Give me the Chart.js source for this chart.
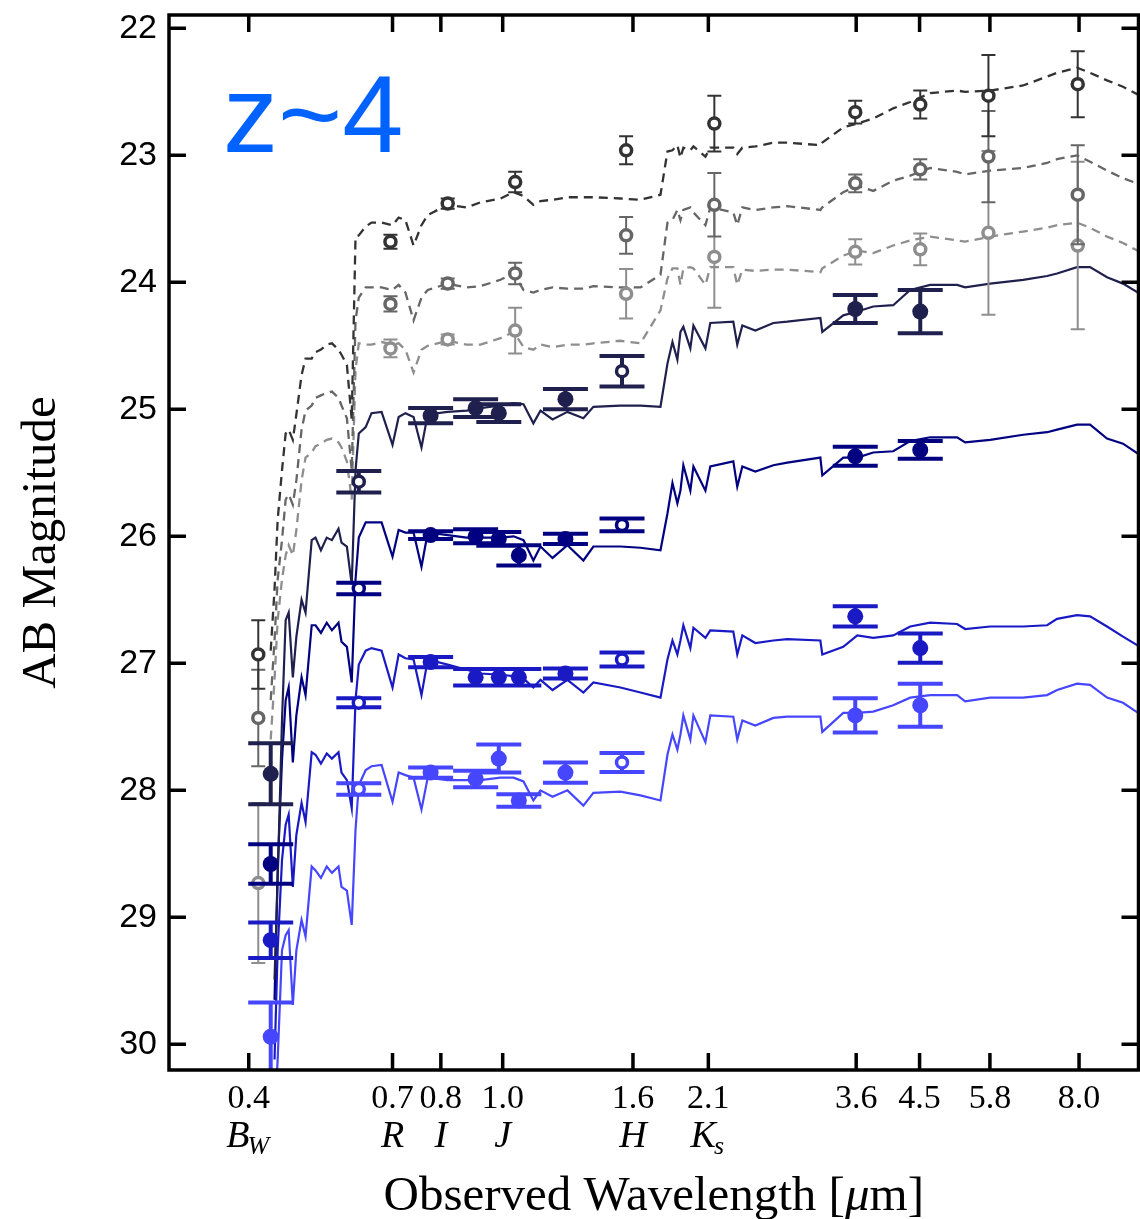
<!DOCTYPE html>
<html>
<head>
<meta charset="utf-8">
<script src="https://cdn.jsdelivr.net/npm/chart.js@4.4.1/dist/chart.umd.min.js"></script>
<style>
  html, body { margin: 0; padding: 0; background: #fff; }
  canvas { display: block; }
</style>
</head>
<body>
<canvas id="sedchart" width="1140" height="1219"></canvas>
<script>
// model SEDs, sampled on one wavelength grid (micron, observed frame)
var sedWave = [0.433, 0.439, 0.444, 0.451, 0.457, 0.462, 0.469, 0.475, 0.484, 0.491,
               0.502, 0.509, 0.519, 0.530, 0.540, 0.553, 0.559, 0.570, 0.580, 0.588,
               0.595, 0.610, 0.623, 0.646, 0.672, 0.687, 0.704, 0.725, 0.746, 0.763,
               0.820, 0.878, 0.923, 0.992, 1.040, 1.078, 1.117, 1.146, 1.197, 1.263,
               1.338, 1.387, 1.529, 1.644, 1.767, 1.812, 1.845, 1.878, 1.899, 1.919,
               1.968, 1.990, 2.078, 2.115, 2.298, 2.331, 2.374, 2.488, 2.655, 2.792,
               3.146, 3.168, 3.417, 3.594, 3.807, 4.092, 4.350, 4.676, 5.153, 5.304,
               5.805, 6.539, 7.129, 7.391, 7.942, 8.324, 8.850, 9.375, 9.968]

// solid models (AB mag)
var sedDarkNavy = [null, 29.49, 28.71, 27.45, 26.66, 26.60, 27.11, 26.79, 26.50, 26.60,
                   26.03, 26.01, 26.11, 26.01, 26.03, 25.94, 26.05, 26.08, 26.38, 25.48,
                   25.19, 25.14, 25.03, 25.02, 25.28, 25.06, 25.03, 25.06, 25.30, 25.04,
                   25.02, 25.01, 24.99, 24.97, 24.95, 24.96, 25.11, 25.01, 25.08, 25.02,
                   25.07, 24.98, 24.97, 24.97, 24.98, 24.64, 24.47, 24.61, 24.39, 24.35,
                   24.52, 24.34, 24.52, 24.32, 24.31, 24.49, 24.34, 24.38, 24.32, 24.31,
                   24.28, 24.39, 24.26, 24.23, 24.19, 24.18, 24.06, 24.02, 24.02, 24.04,
                   24.01, 23.98, 23.95, 23.93, 23.88, 23.88, 23.96, 24.01, 24.09]
var sedNavy = [null, 29.65, 28.63, 27.76, 27.29, 27.19, 27.78, 27.41, 27.11, 27.25,
               26.70, 26.70, 26.76, 26.68, 26.74, 26.68, 26.83, 26.87, 27.15, 26.34,
               26.01, 25.89, 25.89, 25.89, 26.16, 25.95, 25.97, 25.97, 26.24, 25.97,
               25.99, 26.01, 26.01, 26.01, 26.00, 26.03, 26.19, 26.08, 26.17, 26.07,
               26.19, 26.08, 26.08, 26.09, 26.11, 25.82, 25.58, 25.74, 25.64, 25.44,
               25.64, 25.45, 25.64, 25.45, 25.41, 25.61, 25.45, 25.49, 25.44, 25.42,
               25.38, 25.52, 25.38, 25.38, 25.34, 25.33, 25.25, 25.22, 25.22, 25.26,
               25.24, 25.20, 25.18, 25.16, 25.12, 25.12, 25.23, 25.27, 25.36]
var sedBlue = [null, 30.12, 29.26, 28.55, 28.27, 28.19, 28.76, 28.35, 28.10, 28.25,
               27.70, 27.72, 27.79, 27.71, 27.75, 27.70, 27.86, 27.92, 28.14, 27.29,
               27.01, 26.90, 26.88, 26.90, 27.19, 26.93, 26.96, 26.97, 27.25, 26.97,
               27.01, 27.05, 27.08, 27.09, 27.10, 27.12, 27.19, 27.13, 27.21, 27.13,
               27.23, 27.15, 27.19, 27.23, 27.27, 26.97, 26.82, 26.93, 26.82, 26.70,
               26.88, 26.72, 26.80, 26.74, 26.75, 26.93, 26.78, 26.84, 26.82, 26.81,
               26.82, 26.93, 26.87, 26.78, 26.80, 26.78, 26.71, 26.68, 26.69, 26.73,
               26.71, 26.71, 26.70, 26.65, 26.62, 26.63, 26.71, 26.79, 26.87]
var sedLightBlue = [null, 30.60, 30.12, 29.26, 29.14, 29.10, 29.69, 29.26, 29.02, 29.15,
                    28.60, 28.63, 28.69, 28.60, 28.65, 28.60, 28.76, 28.79, 29.06, 28.31,
                    27.96, 27.84, 27.81, 27.80, 28.09, 27.86, 27.88, 27.90, 28.15, 27.90,
                    27.92, 27.92, 27.92, 27.90, 27.90, 27.93, 28.08, 28.00, 28.05, 28.00,
                    28.12, 28.02, 28.01, 28.04, 28.08, 27.72, 27.56, 27.68, 27.56, 27.41,
                    27.60, 27.41, 27.62, 27.41, 27.42, 27.60, 27.45, 27.49, 27.43, 27.42,
                    27.42, 27.54, 27.39, 27.39, 27.38, 27.33, 27.27, 27.25, 27.25, 27.30,
                    27.27, 27.27, 27.25, 27.21, 27.16, 27.17, 27.27, 27.31, 27.40]

// dashed models
var sedDarkGray = [26.90, 26.42, 25.87, 25.48, 25.19, 25.16, 25.24, 25.04, 24.73, 24.60,
                   24.60, 24.55, 24.53, 24.49, 24.48, 24.53, 24.57, 24.65, 25.08, 23.64,
                   23.63, 23.56, 23.53, 23.53, 23.55, 23.49, 23.51, 23.71, 23.55, 23.47,
                   23.39, 23.41, 23.37, 23.34, 23.29, 23.32, 23.39, 23.36, 23.35, 23.33,
                   23.33, 23.33, 23.34, 23.35, 23.31, 22.97, 22.96, 22.92, 23.02, 22.94,
                   22.96, 22.93, 23.01, 22.94, 22.94, 22.99, 22.94, 22.93, 22.90, 22.90,
                   22.92, 22.90, 22.78, 22.75, 22.71, 22.63, 22.58, 22.51, 22.49, 22.50,
                   22.49, 22.45, 22.38, 22.35, 22.31, 22.35, 22.41, 22.46, 22.53]
var sedMidGray = [27.29, 26.82, 26.34, 26.03, 25.71, 25.67, 25.75, 25.56, 25.16, 25.01,
                  24.97, 24.91, 24.89, 24.87, 24.86, 24.91, 24.97, 25.07, 25.48, 24.30,
                  24.12, 24.04, 24.04, 24.04, 24.06, 24.02, 24.08, 24.30, 24.12, 24.06,
                  24.01, 24.04, 24.03, 23.98, 23.93, 24.06, 24.08, 24.06, 24.04, 24.05,
                  24.05, 24.03, 24.04, 24.04, 23.94, 23.53, 23.51, 23.43, 23.51, 23.43,
                  23.41, 23.45, 23.55, 23.41, 23.45, 23.55, 23.41, 23.43, 23.41, 23.40,
                  23.43, 23.41, 23.29, 23.24, 23.28, 23.20, 23.16, 23.10, 23.13, 23.15,
                  23.12, 23.10, 23.06, 23.03, 23.00, 23.05, 23.12, 23.18, 23.23]
var sedLightGray = [27.60, 27.13, 26.66, 26.34, 26.15, 26.07, 26.15, 25.95, 25.56, 25.38,
                    25.34, 25.29, 25.27, 25.24, 25.23, 25.26, 25.30, 25.41, 25.71, 24.69,
                    24.48, 24.49, 24.49, 24.47, 24.49, 24.48, 24.53, 24.71, 24.53, 24.50,
                    24.46, 24.49, 24.49, 24.44, 24.39, 24.51, 24.53, 24.49, 24.51, 24.49,
                    24.49, 24.48, 24.46, 24.48, 24.22, 23.97, 23.89, 23.89, 24.02, 23.89,
                    23.88, 23.89, 24.02, 23.88, 23.88, 24.02, 23.90, 23.91, 23.90, 23.90,
                    23.92, 23.89, 23.79, 23.75, 23.77, 23.71, 23.67, 23.64, 23.67, 23.68,
                    23.64, 23.60, 23.57, 23.55, 23.53, 23.57, 23.64, 23.69, 23.76]

// photometry, filled symbols
var dnWave = [0.433, 0.771, 0.907, 0.986, 1.254, 3.568, 4.511]
var dnMag = [27.87, 25.05, 24.99, 25.03, 24.92, 24.21, 24.23]
var dnErr = [0.24, 0.06, 0.07, 0.07, 0.08, 0.11, 0.17]
var filtWave = [0.433, 0.771, 0.907, 0.986, 1.060, 1.254, 3.568, 4.511]
var nvMag = [28.58, 25.99, 26.00, 26.02, 26.15, 26.02, 25.37, 25.32]
var nvErr = [0.155, 0.03, 0.055, 0.055, 0.08, 0.04, 0.075, 0.07]
var blMag = [29.18, 26.99, 27.11, 27.11, 27.11, 27.08, 26.63, 26.88]
var blErr = [0.14, 0.04, 0.065, 0.065, 0.065, 0.04, 0.08, 0.115]
var lbMag = [29.94, 27.86, 27.91, 27.75, 28.08, 27.86, 27.41, 27.33]
var lbErr = [0.27, 0.04, 0.065, 0.11, 0.05, 0.08, 0.135, 0.17]

// photometry, open symbols of the same four objects
var openWave = [0.595, 1.538]
var dnOpenMag = [25.57, 24.70], dnOpenErr = [0.085, 0.12]
var nvOpenMag = [26.41, 25.91], nvOpenErr = [0.045, 0.05]
var blOpenMag = [27.31, 26.97], blOpenErr = [0.035, 0.055]
var lbOpenMag = [27.99, 27.78], lbOpenErr = [0.045, 0.075]

// gray comparison objects
var grayWave = [0.414, 0.667, 0.820, 1.046, 1.561, 2.146, 3.568, 4.511, 5.769, 7.962]
var dgMag = [26.93, 23.68, 23.38, 23.21, 22.96, 22.75, 22.66, 22.60, 22.53, 22.44]
var dgErr = [0.27, 0.055, 0.04, 0.08, 0.11, 0.22, 0.09, 0.11, 0.32, 0.26]
var mgMag = [27.43, 24.17, 24.01, 23.93, 23.63, 23.39, 23.22, 23.11, 23.01, 23.31]
var mgErr = [0.38, 0.06, 0.04, 0.085, 0.145, 0.25, 0.07, 0.08, 0.36, 0.39]
var lgMag = [28.73, 24.52, 24.45, 24.38, 24.09, 23.80, 23.76, 23.74, 23.61, 23.71]
var lgErr = [0.63, 0.07, 0.04, 0.18, 0.195, 0.40, 0.10, 0.125, 0.645, 0.66]

// axes: ticks sit on the filter wavelengths, labels are rounded
var xTicks = [0.4, 0.672, 0.8, 1.0, 1.6, 2.1, 3.58, 4.5, 5.8, 8.0]
var xTickLabels = ['0.4', '0.7', '0.8', '1.0', '1.6', '2.1', '3.6', '4.5', '5.8', '8.0']
var yTicks = [22, 23, 24, 25, 26, 27, 28, 29, 30]
var bandWave = [0.4, 0.672, 0.8, 1.0, 1.6, 2.1]
var bandName = ['B', 'R', 'I', 'J', 'H', 'K']
var bandSub = ['W', '', '', '', '', 's']

var C_DN = '#20204f', C_NV = '#000080', C_BL = '#1a1ac4', C_LB = '#4646ff'
var C_DG = '#333333', C_MG = '#666666', C_LG = '#8e8e8e'

function pts(w, m) {
    var r = []
    for (var i = 0; i < w.length; i++) {
        if (m[i] !== null) r.push({x: w[i], y: m[i]})
    }
    return r
}
function curve(mags, color, dashed) {
    return {
        data: pts(sedWave, mags), showLine: true, borderColor: color,
        borderWidth: dashed ? 2.3 : 2.2, borderDash: dashed ? [9, 6] : [],
        pointRadius: 0, tension: 0, fill: false, order: 10
    }
}
function blueSym(w, m, e, color, open) {
    return {
        data: pts(w, m), errors: e, barColor: color, capHalf: 22.5, barWidth: 4,
        pointRadius: open ? 5.5 : 8, borderWidth: open ? 3.5 : 0,
        borderColor: color, backgroundColor: open ? '#ffffff' : color, order: 1
    }
}
function graySym(m, e, color) {
    return {
        data: pts(grayWave, m), errors: e, barColor: color, capHalf: 7, barWidth: 2,
        pointRadius: 5.5, borderWidth: 3.5, borderColor: color, backgroundColor: '#ffffff', order: 5
    }
}

// error bars go under each dataset's own symbols
var errorBars = {
    id: 'errorBars',
    beforeDatasetDraw: function (chart, args) {
        var ds = chart.data.datasets[args.index]
        if (!ds.errors) return
        var ctx = chart.ctx, a = chart.chartArea, xs = chart.scales.x, ys = chart.scales.y
        ctx.save()
        ctx.beginPath()
        ctx.rect(a.left, a.top, a.right - a.left, a.bottom - a.top)
        ctx.clip()
        ctx.strokeStyle = ds.barColor
        ctx.lineWidth = ds.barWidth
        ctx.beginPath()
        for (var i = 0; i < ds.data.length; i++) {
            var x = xs.getPixelForValue(ds.data[i].x)
            var y1 = ys.getPixelForValue(ds.data[i].y - ds.errors[i])
            var y2 = ys.getPixelForValue(ds.data[i].y + ds.errors[i])
            ctx.moveTo(x, y1); ctx.lineTo(x, y2)
            ctx.moveTo(x - ds.capHalf, y1); ctx.lineTo(x + ds.capHalf, y1)
            ctx.moveTo(x - ds.capHalf, y2); ctx.lineTo(x + ds.capHalf, y2)
        }
        ctx.stroke()
        ctx.restore()
    }
}

// box, inward ticks, labels
var frameAxes = {
    id: 'frameAxes',
    afterDraw: function (chart) {
        var ctx = chart.ctx, a = chart.chartArea, xs = chart.scales.x, ys = chart.scales.y
        ctx.save()
        ctx.strokeStyle = '#000'
        ctx.lineWidth = 3.5
        ctx.strokeRect(a.left, a.top, a.right - a.left, a.bottom - a.top)
        ctx.beginPath()
        yTicks.forEach(function (v) {
            var y = ys.getPixelForValue(v)
            ctx.moveTo(a.left, y); ctx.lineTo(a.left + 17, y)
            ctx.moveTo(a.right, y); ctx.lineTo(a.right - 17, y)
        })
        xTicks.forEach(function (v) {
            var x = xs.getPixelForValue(v)
            ctx.moveTo(x, a.bottom); ctx.lineTo(x, a.bottom - 17)
            ctx.moveTo(x, a.top); ctx.lineTo(x, a.top + 17)
        })
        ctx.stroke()

        ctx.fillStyle = '#000'
        ctx.font = '34px "Liberation Sans"'
        ctx.textAlign = 'right'
        ctx.textBaseline = 'middle'
        yTicks.forEach(function (v) {
            ctx.fillText(String(v), a.left - 12, ys.getPixelForValue(v))
        })

        ctx.font = '34px "Liberation Serif"'
        ctx.textAlign = 'center'
        ctx.textBaseline = 'alphabetic'
        xTicks.forEach(function (v, i) {
            ctx.fillText(xTickLabels[i], xs.getPixelForValue(v), a.bottom + 38)
        })

        // filter names under the wavelengths
        ctx.textAlign = 'left'
        for (var i = 0; i < bandWave.length; i++) {
            ctx.font = 'italic 38px "Liberation Serif"'
            var w1 = ctx.measureText(bandName[i]).width
            ctx.font = 'italic 26px "Liberation Serif"'
            var w2 = bandSub[i] ? ctx.measureText(bandSub[i]).width : 0
            var x0 = xs.getPixelForValue(bandWave[i]) - (w1 + w2) / 2
            ctx.font = 'italic 38px "Liberation Serif"'
            ctx.fillText(bandName[i], x0, a.bottom + 77)
            if (bandSub[i]) {
                ctx.font = 'italic 26px "Liberation Serif"'
                ctx.fillText(bandSub[i], x0 + w1 - 2, a.bottom + 84)
            }
        }

        // x title, italic mu
        var p1 = 'Observed Wavelength [', p2 = '\u03bc', p3 = 'm]'
        ctx.font = '49px "Liberation Serif"'
        var t1 = ctx.measureText(p1).width, t3 = ctx.measureText(p3).width
        ctx.font = 'italic 49px "Liberation Serif"'
        var t2 = ctx.measureText(p2).width
        var tx = (a.left + a.right) / 2 - (t1 + t2 + t3) / 2
        var ty = a.bottom + 140
        ctx.font = '49px "Liberation Serif"'
        ctx.fillText(p1, tx, ty)
        ctx.fillText(p3, tx + t1 + t2, ty)
        ctx.font = 'italic 49px "Liberation Serif"'
        ctx.fillText(p2, tx + t1, ty)

        // y title
        ctx.save()
        ctx.translate(55, (a.top + a.bottom) / 2)
        ctx.rotate(-Math.PI / 2)
        ctx.font = '49px "Liberation Serif"'
        ctx.textAlign = 'center'
        ctx.fillText('AB Magnitude', 0, 0)
        ctx.restore()

        // redshift tag
        ctx.fillStyle = '#0062ff'
        ctx.font = '110px "Liberation Sans"'
        ctx.textAlign = 'left'
        ctx.fillText('z~4', a.left + 54, a.top + 137)
        ctx.restore()
    }
}

var datasets = [
    blueSym(dnWave, dnMag, dnErr, C_DN, false),
    blueSym(filtWave, nvMag, nvErr, C_NV, false),
    blueSym(filtWave, blMag, blErr, C_BL, false),
    blueSym(filtWave, lbMag, lbErr, C_LB, false),
    blueSym(openWave, dnOpenMag, dnOpenErr, C_DN, true),
    blueSym(openWave, nvOpenMag, nvOpenErr, C_NV, true),
    blueSym(openWave, blOpenMag, blOpenErr, C_BL, true),
    blueSym(openWave, lbOpenMag, lbOpenErr, C_LB, true),
    graySym(dgMag, dgErr, C_DG),
    graySym(mgMag, mgErr, C_MG),
    graySym(lgMag, lgErr, C_LG),
    curve(sedDarkNavy, C_DN, false),
    curve(sedNavy, C_NV, false),
    curve(sedBlue, C_BL, false),
    curve(sedLightBlue, C_LB, false),
    curve(sedDarkGray, C_DG, true),
    curve(sedMidGray, C_MG, true),
    curve(sedLightGray, C_LG, true)
]

var sedchart = new Chart(document.getElementById('sedchart').getContext('2d'), {
    type: 'scatter',
    data: {datasets: datasets},
    options: {
        responsive: false,
        animation: false,
        devicePixelRatio: 1,
        events: [],
        layout: {autoPadding: false, padding: {left: 169, right: 1.5, top: 15, bottom: 149}},
        plugins: {legend: {display: false}, tooltip: {enabled: false}},
        scales: {
            x: {type: 'logarithmic', min: 0.3008, max: 9.914, display: false},
            y: {type: 'linear', reverse: true, min: 21.895, max: 30.202, display: false}
        }
    },
    plugins: [errorBars, frameAxes]
})
</script>
</body>
</html>
